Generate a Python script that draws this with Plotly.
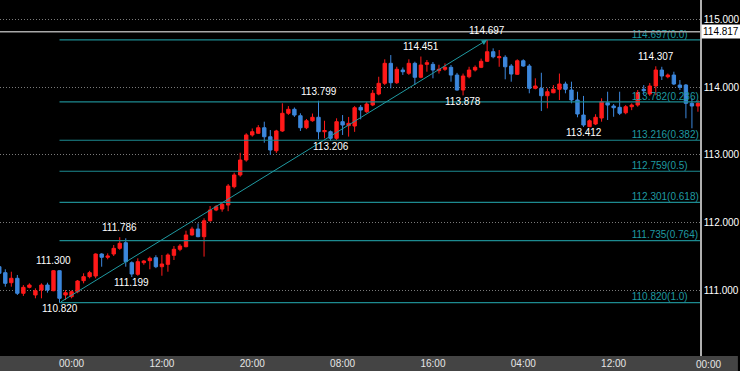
import plotly.graph_objects as go

# ---------------- data ----------------
idx = list(range(-10, 107))
opens = [111.351, 111.263, 111.115, 111.180, 110.959, 111.047, 110.934, 111.007, 111.081, 110.997,
         111.292, 110.934, 110.909, 110.982, 111.145, 111.204, 111.214, 111.538, 111.490, 111.538,
         111.622, 111.705, 111.410, 111.239, 111.410, 111.440, 111.484, 111.351, 111.386, 111.519,
         111.608, 111.646, 111.819, 111.907, 111.794, 112.029, 112.187, 112.202, 112.261, 112.531,
         112.704, 112.925, 113.294, 113.319, 113.401, 113.268, 113.062, 113.353, 113.614, 113.673,
         113.578, 113.401, 113.504, 113.555, 113.342, 113.342, 113.245, 113.490, 113.431, 113.426,
         113.702, 113.637, 113.736, 113.898, 114.056, 114.351, 114.065, 114.252, 114.204, 114.351,
         114.145, 114.336, 114.336, 114.242, 114.263, 114.292, 114.178, 113.957, 114.153, 114.252,
         114.292, 114.381, 114.522, 114.434, 114.440, 114.311, 114.189, 114.389, 114.311, 113.982,
         113.982, 113.873, 113.917, 113.968, 114.046, 113.957, 113.810, 113.588, 113.416, 113.456,
         113.544, 113.770, 113.721, 113.702, 113.622, 113.711, 113.736, 113.968, 113.898, 114.016,
         114.252, 114.153, 114.178, 114.031, 114.031, 113.761, 113.721]
highs = [111.370, 111.313, 111.277, 111.229, 111.080, 111.106, 111.032, 111.106, 111.115, 111.300,
         111.295, 111.007, 111.000, 111.155, 111.254, 111.290, 111.548, 111.550, 111.548, 111.671,
         111.786, 111.770, 111.430, 111.475, 111.450, 111.500, 111.520, 111.524, 111.548, 111.656,
         111.686, 111.882, 111.940, 111.990, 112.065, 112.246, 112.260, 112.290, 112.571, 112.738,
         113.032, 113.320, 113.390, 113.440, 113.490, 113.367, 113.370, 113.761, 113.720, 113.700,
         113.614, 113.530, 113.610, 113.799, 113.504, 113.360, 113.540, 113.588, 113.560, 113.720,
         113.736, 113.780, 113.957, 114.153, 114.410, 114.473, 114.300, 114.290, 114.410, 114.375,
         114.451, 114.400, 114.370, 114.330, 114.350, 114.326, 114.210, 114.200, 114.300, 114.320,
         114.420, 114.697, 114.572, 114.547, 114.470, 114.340, 114.410, 114.410, 114.340, 114.130,
         114.212, 113.980, 114.030, 114.200, 114.080, 114.080, 113.932, 113.870, 113.525, 113.600,
         113.835, 113.932, 113.750, 113.932, 113.735, 113.760, 113.957, 114.030, 114.060, 114.307,
         114.300, 114.200, 114.227, 114.105, 114.046, 113.835, 113.810]
lows = [111.240, 111.056, 111.056, 110.934, 110.920, 111.032, 110.885, 110.885, 110.968, 110.990,
        110.820, 110.860, 110.885, 110.960, 111.106, 111.180, 111.180, 111.351, 111.460, 111.509,
        111.600, 111.351, 111.199, 111.218, 111.380, 111.313, 111.330, 111.218, 111.277, 111.450,
        111.580, 111.637, 111.810, 111.785, 111.500, 112.015, 112.170, 112.162, 112.170, 112.507,
        112.679, 112.900, 113.270, 113.310, 113.180, 113.000, 113.030, 113.340, 113.590, 113.560,
        113.353, 113.380, 113.490, 113.230, 113.245, 113.206, 113.220, 113.294, 113.270, 113.340,
        113.525, 113.620, 113.720, 113.880, 114.030, 113.982, 114.046, 114.180, 114.180, 114.031,
        114.130, 114.227, 114.130, 114.200, 114.240, 114.080, 113.947, 113.878, 114.130, 114.230,
        114.280, 114.370, 114.425, 114.300, 114.115, 114.080, 114.180, 114.300, 113.909, 113.967,
        113.647, 113.687, 113.910, 113.810, 113.909, 113.761, 113.555, 113.412, 113.413, 113.440,
        113.490, 113.515, 113.563, 113.588, 113.600, 113.660, 113.711, 113.880, 113.870, 113.880,
        114.105, 114.130, 114.030, 113.957, 113.540, 113.392, 113.637]
closes = [111.254, 111.106, 111.180, 110.959, 111.047, 111.081, 110.997, 111.081, 111.007, 111.292,
          110.885, 110.968, 110.982, 111.140, 111.204, 111.263, 111.538, 111.490, 111.509, 111.622,
          111.696, 111.425, 111.243, 111.425, 111.435, 111.475, 111.351, 111.391, 111.524, 111.608,
          111.656, 111.819, 111.907, 111.794, 112.029, 112.187, 112.236, 112.271, 112.541, 112.704,
          112.925, 113.294, 113.342, 113.401, 113.268, 113.072, 113.353, 113.614, 113.673, 113.588,
          113.401, 113.504, 113.555, 113.342, 113.360, 113.245, 113.490, 113.441, 113.466, 113.696,
          113.662, 113.751, 113.909, 114.056, 114.351, 114.065, 114.263, 114.227, 114.351, 114.145,
          114.326, 114.360, 114.252, 114.263, 114.292, 114.178, 113.957, 114.164, 114.252, 114.292,
          114.381, 114.522, 114.448, 114.448, 114.300, 114.193, 114.389, 114.311, 113.982, 114.016,
          113.873, 113.932, 113.968, 114.046, 113.968, 113.810, 113.603, 113.441, 113.504, 113.555,
          113.785, 113.736, 113.696, 113.614, 113.711, 113.736, 113.917, 113.947, 114.016, 114.252,
          114.164, 114.178, 114.046, 113.997, 113.761, 113.721, 113.761]

tick_index = [2, 17, 32, 47, 62, 77, 92, 107]
tick_text = ["00:00", "12:00", "20:00", "08:00", "16:00", "04:00", "12:00", "00:00"]

y_ticks = [111.0, 112.0, 113.0, 114.0, 115.0]

fib_values = [114.697, 113.782, 113.216, 112.759, 112.301, 111.735, 110.820]
fib_ratios = ["0.0", "0.236", "0.382", "0.5", "0.618", "0.764", "1.0"]

swing_low_index = 0
swing_high_index = 71

current_price = 114.817

# labelled highs / lows: (candle index, kind)
marked = [(-1, "high"), (0, "low"), (10, "high"), (12, "low"), (43, "high"), (45, "low"),
          (60, "high"), (67, "low"), (71, "high"), (87, "low"), (99, "high")]

# ---------------- styles ----------------
RED = "#ff1a1a"
BLUE = "#3c87dc"
TEAL = "#1f9aa2"
FONT = "Liberation Sans, Arial, sans-serif"
x_range = [-9.88, 106.34]
y_range = [110.034, 115.285]
PLOT_H = 356
px_per_unit = PLOT_H / (y_range[1] - y_range[0])
label_lift = 4.8 / px_per_unit          # fib label centre sits ~5 px above its line

fig = go.Figure()

# fib lines
for v in fib_values:
    fig.add_trace(go.Scatter(x=[idx[idx.index(swing_low_index)], x_range[1]], y=[v, v],
                             mode="lines", line=dict(color="#1d8a90", width=1.2),
                             hoverinfo="skip", showlegend=False))
# fib labels (drawn below candles)
fig.add_trace(go.Scatter(x=[95.0] * len(fib_values), y=[v + label_lift for v in fib_values],
                         text=[f"{v:.3f}({r})" for v, r in zip(fib_values, fib_ratios)],
                         mode="text", textposition="middle right",
                         textfont=dict(color=TEAL, size=10, family=FONT),
                         hoverinfo="skip", showlegend=False))

# current price line
fig.add_trace(go.Scatter(x=x_range, y=[current_price, current_price], mode="lines",
                         line=dict(color="#a8a8a8", width=1.5), hoverinfo="skip",
                         showlegend=False))

fig.add_trace(go.Candlestick(
    x=idx, open=opens, high=highs, low=lows, close=closes,
    increasing=dict(line=dict(color=RED, width=1), fillcolor=RED),
    decreasing=dict(line=dict(color=BLUE, width=1), fillcolor=BLUE),
    whiskerwidth=0, showlegend=False, hoverinfo="skip"))

annotations = []
# trend line arrow from swing low to swing high
lo_i = idx.index(swing_low_index)
hi_i = idx.index(swing_high_index)
annotations.append(dict(x=idx[hi_i], y=highs[hi_i], ax=idx[lo_i], ay=lows[lo_i],
                        xref="x", yref="y", axref="x", ayref="y", text="",
                        showarrow=True, arrowhead=2, arrowsize=1.1, arrowwidth=1,
                        arrowcolor=TEAL, standoff=0))

for k, kind in marked:
    i = idx.index(k)
    v = highs[i] if kind == "high" else lows[i]
    annotations.append(dict(x=k, y=v, xref="x", yref="y", text=f"{v:.3f}",
                            showarrow=False, yanchor="middle",
                            yshift=9.6 if kind == "high" else -5.7,
                            font=dict(color="#ffffff", size=10, family=FONT)))

# current price tag
annotations.append(dict(x=1, y=current_price, xref="paper", yref="y",
                        text=f"{current_price:.3f}", showarrow=False, xanchor="left",
                        xshift=1, bgcolor="#ffffff", borderpad=1,
                        font=dict(color="#000000", size=10, family=FONT)))

# last time label sits at the right edge, outside the plotted range
annotations.append(dict(x=1, y=0, xref="paper", yref="paper", text=tick_text[-1],
                        showarrow=False, xanchor="center", yanchor="top", xshift=8, yshift=-1,
                        font=dict(color="#e6e6e6", size=10, family=FONT)))

shapes = [dict(type="rect", xref="paper", yref="paper", x0=0, x1=740 / 702,
               y0=-15 / 356, y1=0, fillcolor="#444444", line=dict(width=0), layer="below")]

fig.update_layout(
    width=740, height=371,
    margin=dict(l=0, r=38, t=0, b=15),
    paper_bgcolor="#000000", plot_bgcolor="#000000",
    boxgap=0.2,
    showlegend=False,
    annotations=annotations, shapes=shapes,
    font=dict(family=FONT, color="#ffffff", size=10),
    xaxis=dict(range=x_range, tickvals=tick_index[:-1], ticktext=tick_text[:-1],
               showgrid=False, zeroline=False, showline=False, ticks="",
               tickfont=dict(color="#e6e6e6", size=10, family=FONT),
               rangeslider=dict(visible=False), fixedrange=True),
    yaxis=dict(range=y_range, side="right", tickvals=y_ticks, tickformat=".3f",
               showgrid=True, gridcolor="#7a7a7a", griddash="1px,2px", gridwidth=1,
               zeroline=False, showline=True, linecolor="#b0b0b0", linewidth=1.5,
               ticks="", tickfont=dict(color="#ffffff", size=10, family=FONT),
               fixedrange=True),
)

fig.write_html("out.html", config={"displayModeBar": False},
               post_script="document.body.style.margin='0';document.body.style.overflow='hidden';")
